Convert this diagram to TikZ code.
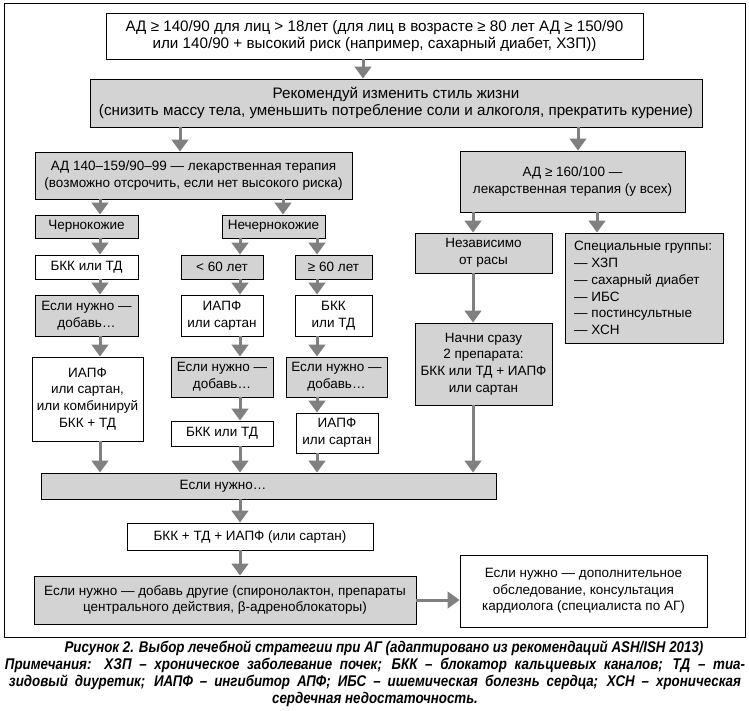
\documentclass[tikz,border=0pt]{standalone}
\usepackage{fontspec}
\setmainfont{Liberation Sans}
\newfontfamily\capfont[FakeStretch=0.86]{Liberation Sans}
\usetikzlibrary{arrows.meta}
\definecolor{boxgray}{RGB}{211,211,211}
\definecolor{arrgray}{RGB}{128,128,128}
\begin{document}
\begin{tikzpicture}[x=1pt,y=-1pt,
  every node/.style={font=\fontsize{13.5}{16.7}\selectfont, inner sep=1pt, align=center},
  bigtext/.style={font=\fontsize{15.2}{17.6}\selectfont},
  wbox/.style={draw=black, line width=0.9pt, fill=white},
  gbox/.style={draw=black, line width=0.9pt, fill=boxgray},
  arr/.style={draw=arrgray, line width=3pt, -{Triangle[width=16.5pt,length=12pt]}},
  capt/.style={font={\capfont\fontsize{15.5}{17}\selectfont\bfseries\itshape}, inner sep=0pt}]
\useasboundingbox (0,0) rectangle (749,710);
\draw[line width=1pt] (4,3) rectangle (745,637);
% x positions of the vertical connectors
\coordinate (X100) at (100,0);
\coordinate (X180) at (180,0);
\coordinate (X240) at (240,0);
\coordinate (X283) at (283,0);
\coordinate (X317) at (317,0);
\coordinate (X363) at (363,0);
\coordinate (X473) at (473,0);
\coordinate (X578) at (578,0);
\coordinate (X597) at (597,0);
% boxes
\node[wbox, bigtext, minimum width=537pt, minimum height=46pt] (top) at (374.5,36)
  {АД ≥ 140/90 для лиц > 18лет (для лиц в возрасте ≥ 80 лет АД ≥ 150/90\\или 140/90 + высокий риск (например, сахарный диабет, ХЗП))};
\node[gbox, bigtext, minimum width=612pt, minimum height=48pt] (life) at (396,103)
  {Рекомендуй изменить стиль жизни\\(снизить массу тела, уменьшить потребление соли и алкоголя, прекратить курение)};
\node[gbox, minimum width=317pt, minimum height=47pt] (left) at (193.5,175.5)
  {АД 140–159/90–99 — лекарственная терапия\\(возможно отсрочить, если нет высокого риска)};
\node[gbox, minimum width=225pt, minimum height=61pt] (right) at (572.5,181.5)
  {АД ≥ 160/100 —\\лекарственная терапия (у всех)};
\node[gbox, minimum width=103pt, minimum height=23pt] (chern) at (86.5,226.5) {Чернокожие};
\node[gbox, minimum width=103pt, minimum height=23pt] (nechern) at (273.5,226.5) {Нечернокожие};
\node[wbox, minimum width=103pt, minimum height=24pt] (bkkA) at (86.5,267) {БКК или ТД};
\node[gbox, minimum width=82pt, minimum height=24pt] (lt60) at (222,267) {< 60 лет};
\node[gbox, minimum width=77pt, minimum height=24pt] (ge60) at (333.5,267) {≥ 60 лет};
\node[gbox, minimum width=103pt, minimum height=41pt] (esliA) at (86.5,315.5) {Если нужно —\\добавь…};
\node[wbox, minimum width=82pt, minimum height=41pt] (iapfA) at (222,315.5) {ИАПФ\\или сартан};
\node[wbox, minimum width=77pt, minimum height=41pt] (bkkB) at (333.5,315.5) {БКК\\или ТД};
\node[wbox, minimum width=111pt, minimum height=84pt] (combo) at (87.5,399) {ИАПФ\\или сартан,\\или комбинируй\\БКК + ТД};
\node[gbox, minimum width=102pt, minimum height=40pt] (esliB) at (222,377) {Если нужно —\\добавь…};
\node[gbox, minimum width=101pt, minimum height=40pt] (esliC) at (336.5,377) {Если нужно —\\добавь…};
\node[wbox, minimum width=102pt, minimum height=25pt] (bkkC) at (222,433.5) {БКК или ТД};
\node[wbox, minimum width=82pt, minimum height=40pt] (iapfB) at (337,433) {ИАПФ\\или сартан};
\node[gbox, minimum width=137pt, minimum height=40pt] (nezav) at (483.5,253) {Независимо\\от расы};
\node[gbox, minimum width=158pt, minimum height=110pt] (spec) at (644,288) {};
\node[anchor=west, align=left] (spectext) at (573,288)
  {Специальные группы:\\— ХЗП\\— сахарный диабет\\— ИБС\\— постинсультные\\— ХСН};
\node[gbox, minimum width=137pt, minimum height=82pt] (nachni) at (483.5,364)
  {Начни сразу\\2 препарата:\\БКК или ТД + ИАПФ\\или сартан};
\node[gbox, minimum width=455pt, minimum height=26pt] (eslin) at (268.5,486) {};
\node (eslintext) at (223,486) {Если нужно…};
\node[wbox, minimum width=246pt, minimum height=27pt] (triple) at (250,536.5) {БКК + ТД + ИАПФ (или сартан)};
\node[gbox, minimum width=382pt, minimum height=48pt] (final) at (225,600)
  {Если нужно — добавь другие (спиронолактон, препараты\\центрального действия, β-адреноблокаторы)};
\node[wbox, minimum width=247pt, minimum height=72pt] (cons) at (583.5,591)
  {Если нужно — дополнительное\\обследование, консультация\\кардиолога (специалиста по АГ)};
% connectors
\draw[arr] (top.south -| X363) -- (life.north -| X363);
\draw[arr] (life.south -| X180) -- (left.north -| X180);
\draw[arr] (life.south -| X578) -- (right.north -| X578);
\draw[arr] (left.south -| X100) -- (chern.north -| X100);
\draw[arr] (left.south -| X283) -- (nechern.north -| X283);
\draw[arr] (chern.south -| X100) -- (bkkA.north -| X100);
\draw[arr] (nechern.south -| X240) -- (lt60.north -| X240);
\draw[arr] (nechern.south -| X317) -- (ge60.north -| X317);
\draw[arr] (bkkA.south -| X100) -- (esliA.north -| X100);
\draw[arr] (lt60.south -| X240) -- (iapfA.north -| X240);
\draw[arr] (ge60.south -| X317) -- (bkkB.north -| X317);
\draw[arr] (esliA.south -| X100) -- (combo.north -| X100);
\draw[arr] (iapfA.south -| X240) -- (esliB.north -| X240);
\draw[arr] (bkkB.south -| X317) -- (esliC.north -| X317);
\draw[arr] (esliB.south -| X240) -- (bkkC.north -| X240);
\draw[arr] (esliC.south -| X317) -- (iapfB.north -| X317);
\draw[arr] (combo.south -| X100) -- (eslin.north -| X100);
\draw[arr] (bkkC.south -| X240) -- (eslin.north -| X240);
\draw[arr] (iapfB.south -| X317) -- (eslin.north -| X317);
\draw[arr] (right.south -| X473) -- (nezav.north -| X473);
\draw[arr] (right.south -| X597) -- (spec.north -| X597);
\draw[arr] (nezav.south -| X473) -- (nachni.north -| X473);
\draw[arr] (nachni.south -| X473) -- (eslin.north -| X473);
\draw[arr] (eslin.south -| X240) -- (triple.north -| X240);
\draw[arr] (triple.south -| X240) -- (final.north -| X240);
\draw[arr] (final.east) -- (cons.west |- final.east);
% caption
\node[capt] (cap1) at (384,648) {Рисунок 2. Выбор лечебной стратегии при АГ (адаптировано из рекомендаций ASH/ISH 2013)};
\node[capt] (cap2) at (375,665) {\makebox[740pt][s]{Примечания: ХЗП – хроническое заболевание почек; БКК – блокатор кальциевых каналов; ТД – тиа-}};
\node[capt] (cap3) at (375,682) {\makebox[732pt][s]{зидовый диуретик; ИАПФ – ингибитор АПФ; ИБС – ишемическая болезнь сердца; ХСН – хроническая}};
\node[capt] (cap4) at (375,699) {сердечная недостаточность.};
\end{tikzpicture}
\end{document}
